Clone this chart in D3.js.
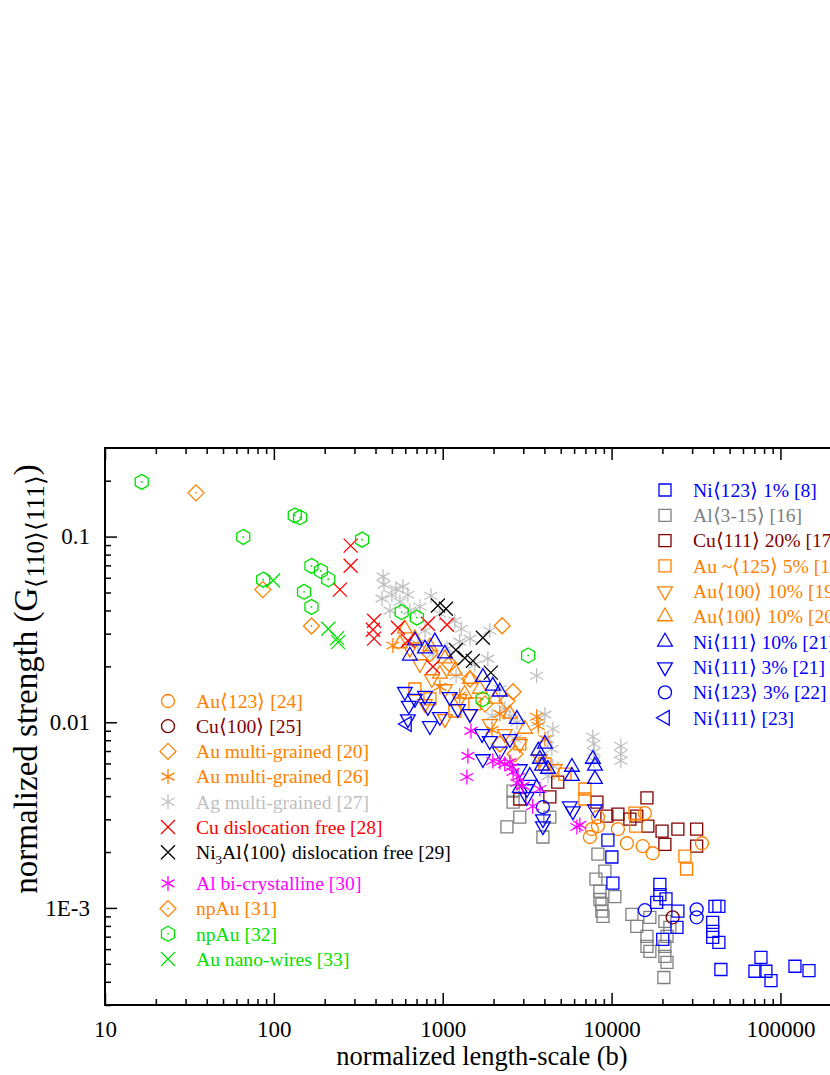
<!DOCTYPE html>
<html lang="en">
<head>
<meta charset="UTF-8">
<title>normalized strength vs length-scale</title>
<script src="https://d3js.org/d3.v7.min.js"></script>
<style>
  body { margin: 0; background: #ffffff; }
  svg { display: block; font-family: "Liberation Serif", "Times New Roman", serif; }
</style>
</head>
<body>
<svg id="chart" width="830" height="1075"></svg>
<script>
// tick labels
const xTickValues = [10, 100, 1000, 10000, 100000];
const xTickLabels = ["10", "100", "1000", "10000", "100000"];
const yTickValues = [0.001, 0.01, 0.1];
const yTickLabels = ["1E-3", "0.01", "0.1"];

// data: [normalized length-scale (b), normalized strength]
const ni123_1pct = [[9510,0.00232],[10040,0.00188],[10180,0.00136],[19320,0.00134],[19320,0.00118],[21000,0.00112],[18500,0.00107],[24700,0.00096],[24400,0.000786],[40930,0.00102],[43200,0.00102],[39700,0.000836],[39700,0.000748],[39700,0.000694],[43200,0.000652],[76700,0.000542],[70630,0.000456],[82000,0.000456],[87900,0.000406],[44400,0.000466],[121900,0.000485],[147600,0.00046],[20100,0.000677]];
const al315 = [[2610,0.00426],[2610,0.00371],[2860,0.00308],[2400,0.00273],[4310,0.00308],[3920,0.00241],[8300,0.00195],[9130,0.00158],[8080,0.00143],[8530,0.00123],[10460,0.00115],[8530,0.00111],[8760,0.00105],[8760,0.00096],[8900,0.0009],[13200,0.000924],[14100,0.000796],[16860,0.00089],[16200,0.000702],[16200,0.00062],[16860,0.000583],[20690,0.000846],[21300,0.000702],[20690,0.00062],[20690,0.000548],[21300,0.000509],[20400,0.000422],[22150,0.000786]];
const cu111_20pct = [[2860,0.00386],[4310,0.00396],[4800,0.00476],[8190,0.00371],[9380,0.00312],[10900,0.0032],[12830,0.00301],[14100,0.00312],[16200,0.00391],[16400,0.00276],[19900,0.00259],[24700,0.00266],[31900,0.00266],[20690,0.0022],[31900,0.00215]];
const au125_5pct = [[6950,0.00437],[6950,0.00386],[13740,0.00324],[13900,0.00276],[27180,0.0019],[27800,0.00162],[684,0.0151],[840,0.01336],[1180,0.0115],[1550,0.01256],[2860,0.00764],[4030,0.00596],[5290,0.00526]];
const au100_19 = [[639,0.0249],[733,0.0206],[862,0.0171],[1030,0.0151],[1260,0.01336],[1450,0.01109],[1900,0.00979],[2330,0.00865],[2860,0.00764],[3760,0.00634],[4610,0.0056],[785,0.01256],[1030,0.01042]];
const au100_20 = [[597,0.0319],[684,0.0282],[840,0.0256],[1030,0.022],[1180,0.0189],[1450,0.0171],[1660,0.0151],[2040,0.01336],[2500,0.01109],[3070,0.0092],[962,0.0182],[558,0.0265],[1350,0.0142]];
const ni111_10pct = [[684,0.0275],[785,0.0249],[899,0.0272],[639,0.0228],[1030,0.0234],[1730,0.0175],[1980,0.0157],[2180,0.0146],[2750,0.0104],[3280,0.00513],[3600,0.00442],[3680,0.00701],[3760,0.00634],[3870,0.00582],[4030,0.00764],[4200,0.0056],[5820,0.00574],[5820,0.00513],[7750,0.00634],[7970,0.00582],[7970,0.00494],[2860,0.00442]];
const ni111_3pct = [[597,0.0146],[630,0.0123],[622,0.0104],[684,0.0134],[785,0.0139],[817,0.0121],[962,0.0107],[1100,0.0137],[840,0.00955],[1230,0.0118],[1450,0.0111],[1710,0.00865],[1730,0.00634],[2180,0.00696],[2500,0.00813],[3150,0.00437],[3150,0.00396],[3920,0.00301],[3920,0.00276],[5660,0.00353],[5900,0.00332],[7970,0.0034],[1900,0.00793],[2860,0.0056]];
const ni123_3pct = [[3920,0.00349],[15750,0.000972],[31900,0.000983],[31900,0.00089]];
const ni111_23 = [[614,0.00979]];
const au123_24 = [[8300,0.00308],[8300,0.00276],[7640,0.00266],[7440,0.00241],[10900,0.00266],[12330,0.00223],[15300,0.00215],[17500,0.00197],[15750,0.00324],[34300,0.00223]];
const cu100_25 = [[23000,0.00089]];
const auMulti20 = [[86,0.0518],[2250,0.0331],[2610,0.0146],[2400,0.013],[1780,0.01256],[1450,0.0171],[1100,0.0206],[840,0.0234],[2180,0.00764],[2680,0.00675]];
const auMulti26 = [[507,0.0259],[962,0.0155],[1260,0.0139],[1960,0.0091],[3600,0.0107],[3680,0.00955],[2180,0.0111],[4030,0.00813]];
const agMulti27 = [[443,0.0609],[449,0.0551],[528,0.0524],[581,0.0538],[437,0.0463],[500,0.0486],[558,0.0446],[622,0.0486],[487,0.0399],[639,0.0399],[733,0.0419],[851,0.048],[962,0.0384],[1180,0.0352],[1290,0.0319],[1900,0.0311],[1450,0.0282],[713,0.0265],[875,0.0234],[1260,0.0272],[1850,0.022],[1200,0.0178],[1550,0.0204],[2180,0.0151],[3600,0.0178],[2330,0.0118],[1960,0.0108],[2500,0.0108],[2750,0.01],[3680,0.01],[4030,0.011],[4490,0.0092],[4200,0.00813],[2680,0.00813],[4430,0.00718],[4490,0.00582],[4200,0.00513],[3760,0.00634],[7750,0.00835],[7860,0.00764],[7860,0.00692],[7860,0.0062],[11350,0.00745],[11350,0.00675],[11350,0.0062],[1060,0.0249],[785,0.0311]];
const cuFree28 = [[285,0.0894],[285,0.0697],[246,0.0518],[392,0.0352],[386,0.0315],[392,0.0282],[543,0.0323],[622,0.0275],[817,0.0339],[1059,0.0335],[875,0.0199]];
const ni3al29 = [[937,0.0425],[1045,0.0409],[1729,0.0285],[1197,0.0245],[1353,0.0222],[1509,0.0214],[1927,0.0185]];
const alBi30 = [[1470,0.00898],[1410,0.00659],[1390,0.00507],[1980,0.00618],[2180,0.0061],[2330,0.00596],[2500,0.0061],[2570,0.00574],[2610,0.0054],[2790,0.00507],[2750,0.00471],[2980,0.00454],[3760,0.00437],[3410,0.00353],[6230,0.00273],[6490,0.0028]];
const npAu31 = [[34.6,0.172],[167,0.033]];
const npAu32 = [[16.5,0.197],[133,0.13],[143,0.127],[65.9,0.0996],[333,0.0963],[86.5,0.0586],[167,0.0695],[190,0.0653],[210,0.0589],[151,0.0504],[167,0.0418],[571,0.0392],[703,0.0366],[3207,0.0229],[1722,0.0133]];
const auWires33 = [[99,0.058],[210,0.0319],[237,0.0284],[240,0.027]];

const BLUE = "#0000ff", GRAY = "#808080", DRED = "#800000", ORANGE = "#ff8000",
      LGRAY = "#c0c0c0", RED = "#ff0000", BLACK = "#000000", MAGENTA = "#ff00ff", GREEN = "#00e000";

const rightLegend = [
  { data: ni123_1pct, sym: "square", color: BLUE, label: "Ni⟨123⟩ 1% [8]" },
  { data: al315, sym: "square", color: GRAY, label: "Al⟨3-15⟩ [16]" },
  { data: cu111_20pct, sym: "square", color: DRED, label: "Cu⟨111⟩ 20% [17]" },
  { data: au125_5pct, sym: "square", color: ORANGE, label: "Au ~⟨125⟩ 5% [18]" },
  { data: au100_19, sym: "triDown", color: ORANGE, label: "Au⟨100⟩ 10% [19]" },
  { data: au100_20, sym: "triUp", color: ORANGE, label: "Au⟨100⟩ 10% [20]" },
  { data: ni111_10pct, sym: "triUp", color: BLUE, label: "Ni⟨111⟩ 10% [21]" },
  { data: ni111_3pct, sym: "triDown", color: BLUE, label: "Ni⟨111⟩ 3% [21]" },
  { data: ni123_3pct, sym: "circle", color: BLUE, label: "Ni⟨123⟩ 3% [22]" },
  { data: ni111_23, sym: "triLeft", color: BLUE, label: "Ni⟨111⟩ [23]" }
];
const leftLegend = [
  { data: au123_24, sym: "circle", color: ORANGE, label: "Au⟨123⟩ [24]" },
  { data: cu100_25, sym: "circle", color: DRED, label: "Cu⟨100⟩ [25]" },
  { data: auMulti20, sym: "diamond", color: ORANGE, label: "Au multi-grained [20]" },
  { data: auMulti26, sym: "asterisk", color: ORANGE, label: "Au multi-grained [26]" },
  { data: agMulti27, sym: "asterisk", color: LGRAY, label: "Ag multi-grained [27]" },
  { data: cuFree28, sym: "cross", color: RED, label: "Cu dislocation free [28]" },
  { data: ni3al29, sym: "cross", color: BLACK, label: "Ni3Al" },
  { data: alBi30, sym: "asterisk", color: MAGENTA, label: "Al bi-crystalline [30]" },
  { data: npAu31, sym: "diamond", dot: true, color: ORANGE, label: "npAu [31]" },
  { data: npAu32, sym: "hexagon", dot: true, color: GREEN, label: "npAu [32]" },
  { data: auWires33, sym: "cross", color: GREEN, label: "Au nano-wires [33]" }
];

const svg = d3.select("#chart");
svg.append("rect").attr("width", 830).attr("height", 1075).attr("fill", "#fff");

const plotLeft = 105, plotRight = 861, plotTop = 448, plotBottom = 1005;
const x = d3.scaleLog().domain([10, 300000]).range([plotLeft, plotRight]);
const y = d3.scaleLog().domain([0.0003, 0.3]).range([plotBottom, plotTop]);

function symPath(type) {
  const c = 0.8660254;
  switch (type) {
    case "square": { const r = 6; return `M${-r},${-r}H${r}V${r}H${-r}Z`; }
    case "circle": { const r = 6.5; return `M${r},0A${r},${r} 0 1,1 ${-r},0A${r},${r} 0 1,1 ${r},0Z`; }
    case "triUp": { const R = 8.5; return `M0,${-R}L${R*c},${R/2}L${-R*c},${R/2}Z`; }
    case "triDown": { const R = 8.5; return `M0,${R}L${R*c},${-R/2}L${-R*c},${-R/2}Z`; }
    case "triLeft": { const R = 8.5; return `M${-R},0L${R/2},${-R*c}L${R/2},${R*c}Z`; }
    case "diamond": { const r = 8; return `M0,${-r}L${r},0L0,${r}L${-r},0Z`; }
    case "hexagon": {
      const R = 7.5;
      const pts = d3.range(6).map(i => { const a = (-90 + 60 * i) * Math.PI / 180; return [R * Math.cos(a), R * Math.sin(a)]; });
      return "M" + pts.map(p => p.join(",")).join("L") + "Z";
    }
    case "cross": { const r = 7; return `M${-r},${-r}L${r},${r}M${-r},${r}L${r},${-r}`; }
    case "asterisk": { const r = 7.5; return `M0,${-r}L0,${r}M${-r*c},${-r/2}L${r*c},${r/2}M${-r*c},${r/2}L${r*c},${-r/2}`; }
  }
}

function drawSymbol(g, s, cx, cy) {
  g.append("path")
    .attr("transform", `translate(${cx},${cy})`)
    .attr("d", symPath(s.sym))
    .attr("fill", "none")
    .attr("stroke", s.color)
    .attr("stroke-width", 1.3);
  if (s.dot) {
    g.append("circle").attr("cx", cx).attr("cy", cy).attr("r", 0.9).attr("fill", s.color);
  }
}

// points (drawn back to front)
const drawOrder = [
  leftLegend[4], rightLegend[1], rightLegend[2], rightLegend[3], rightLegend[4], rightLegend[5],
  leftLegend[2], leftLegend[3], leftLegend[0], leftLegend[1], rightLegend[0], rightLegend[6],
  rightLegend[7], rightLegend[8], rightLegend[9], leftLegend[5], leftLegend[6], leftLegend[7],
  leftLegend[8], leftLegend[9], leftLegend[10]
];
const marks = svg.append("g");
drawOrder.forEach(s => {
  s.data.forEach(d => drawSymbol(marks, s, x(d[0]), y(d[1])));
});

// axes
const xMinor = [];
for (let e = 1; e <= 5; e++) for (let m = 2; m <= 9; m++) xMinor.push(m * Math.pow(10, e));
const yMinor = [];
for (let e = -4; e <= -1; e++) for (let m = 2; m <= 9; m++) { const v = m * Math.pow(10, e); if (v >= 0.0003 && v <= 0.3) yMinor.push(v); }

function styleAxis(g) {
  g.select(".domain").remove();
  g.selectAll(".tick line").attr("stroke", "#000").attr("stroke-width", 1.5);
  g.selectAll(".tick text").attr("font-size", 23).attr("font-family", "Liberation Serif, serif").attr("fill", "#000");
}

svg.append("g").attr("transform", `translate(0,${plotBottom})`)
  .call(d3.axisBottom(x).tickValues(xTickValues).tickSize(-12).tickPadding(16)
    .tickFormat((d, i) => xTickLabels[i])).call(styleAxis);
svg.append("g").attr("transform", `translate(0,${plotBottom})`)
  .call(d3.axisBottom(x).tickValues(xMinor).tickSize(-6).tickFormat("")).call(styleAxis);
svg.append("g").attr("transform", `translate(0,${plotTop})`)
  .call(d3.axisTop(x).tickValues(xTickValues).tickSize(-12).tickFormat("")).call(styleAxis);
svg.append("g").attr("transform", `translate(0,${plotTop})`)
  .call(d3.axisTop(x).tickValues(xMinor).tickSize(-6).tickFormat("")).call(styleAxis);
svg.append("g").attr("transform", `translate(${plotLeft},0)`)
  .call(d3.axisLeft(y).tickValues(yTickValues).tickSize(-12).tickPadding(15)
    .tickFormat((d, i) => yTickLabels[i])).call(styleAxis);
svg.append("g").attr("transform", `translate(${plotLeft},0)`)
  .call(d3.axisLeft(y).tickValues(yMinor).tickSize(-6).tickFormat("")).call(styleAxis);

svg.append("rect")
  .attr("x", plotLeft).attr("y", plotTop).attr("width", plotRight - plotLeft).attr("height", plotBottom - plotTop)
  .attr("fill", "none").attr("stroke", "#000").attr("stroke-width", 2);

// axis titles
svg.append("text")
  .attr("x", 482).attr("y", 1065)
  .attr("text-anchor", "middle").attr("font-size", 26.5)
  .text("normalized length-scale (b)");

const yTitle = svg.append("text")
  .attr("transform", "translate(37,679) rotate(-90)")
  .attr("text-anchor", "middle").attr("font-size", 33);
yTitle.append("tspan").text("normalized strength (G");
yTitle.append("tspan").attr("font-size", 25).attr("dy", 7).text("⟨110⟩⟨111⟩");
yTitle.append("tspan").attr("dy", -7).text(")");

// legends
function drawLegend(items, symX, textX, rowY) {
  const g = svg.append("g").attr("font-size", 19.6);
  items.forEach((s, i) => {
    const cy = rowY(i);
    drawSymbol(g, s, symX, cy);
    const t = g.append("text").attr("x", textX).attr("y", cy).attr("dy", "0.35em").attr("fill", s.color);
    if (s.label === "Ni3Al") {
      t.append("tspan").text("Ni");
      t.append("tspan").attr("font-size", 13).attr("dy", 5).text("3");
      t.append("tspan").attr("dy", -5).text("Al⟨100⟩ dislocation free [29]");
    } else {
      t.text(s.label);
    }
  });
}
drawLegend(rightLegend, 665, 693, i => 490 + i * 25.3);
drawLegend(leftLegend, 168, 196, i => 701 + i * 25.2 + (i >= 7 ? 6 : 0));
</script>
</body>
</html>
